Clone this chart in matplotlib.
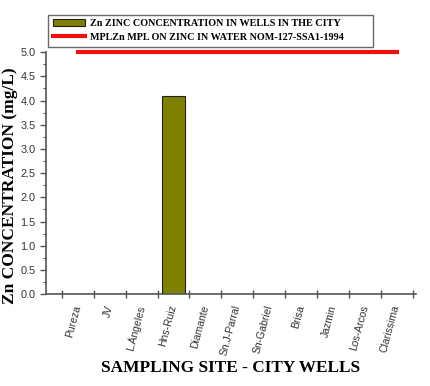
import numpy as np
import matplotlib
matplotlib.use('Agg')
import matplotlib.pyplot as plt
from matplotlib.patches import Patch
from matplotlib.lines import Line2D

# datos
sites = ['Pureza', 'JV', 'L.Ángeles', 'Hns-Ruiz', 'Diamante', 'Sn.J-Parral',
         'Sn-Gabriel', 'Brisa', 'Jazmin', 'Los-Arcos', 'Clarissima']
zinc = [0, 0, 0, 4.1, 0, 0, 0, 0, 0, 0, 0]
mpl_limit = [5.0] * len(sites)

fig = plt.figure(figsize=(4.3, 3.86), dpi=100)
ax = fig.add_axes([0.107, 0.238, 0.86, 0.627])

x = np.arange(len(sites))
ax.bar(x, zinc, width=0.75, color='#808000', edgecolor='#222222', linewidth=0.8, zorder=2)
ax.plot(x, mpl_limit, color='#ee1111', linewidth=3, clip_on=False, zorder=3)

ax.set_xlim(-1.0, 10.6)
ax.set_ylim(0, 5)

axis_col = '#555555'
for s in ['top', 'right']:
    ax.spines[s].set_visible(False)
for s in ['left', 'bottom']:
    ax.spines[s].set_color(axis_col)
    ax.spines[s].set_linewidth(1.2)

ax.set_yticks(np.arange(0, 5.01, 0.5))
ax.set_yticks(np.arange(0.25, 5, 0.5), minor=True)
ax.set_yticklabels(['%.1f' % v for v in np.arange(0, 5.01, 0.5)],
                   fontsize=7.8, family='Liberation Sans', color='#333333')
ax.tick_params(axis='y', which='major', direction='out', length=4, width=1, color=axis_col)
ax.tick_params(axis='y', which='minor', direction='out', length=2, width=0.8, color=axis_col)

# marcas en los limites entre sitios, etiquetas en el centro
ax.set_xticks(np.arange(-0.5, 10.6, 1.0))
ax.set_xticklabels([])
ax.set_xticks(x, minor=True)
ax.set_xticklabels(sites, minor=True, rotation=75, ha='right', va='center',
                   rotation_mode='anchor', fontsize=7.5, family='Liberation Sans',
                   color='#333333')
ax.tick_params(axis='x', which='major', direction='inout', length=6, width=1, color=axis_col)
ax.tick_params(axis='x', which='minor', length=0, pad=8)

ax.set_ylabel('Zn CONCENTRATION (mg/L)', family='Liberation Serif', fontweight='bold',
              fontsize=12.5, va='center')
ax.yaxis.set_label_coords(-0.097, 0.45)
ax.set_xlabel('SAMPLING SITE - CITY WELLS', family='Liberation Serif', fontweight='bold',
              fontsize=12.4, labelpad=2)

handles = [Patch(facecolor='#808000', edgecolor='#222222', linewidth=0.8),
           Line2D([], [], color='#ee1111', linewidth=3)]
labels = ['Zn ZINC CONCENTRATION IN WELLS IN THE CITY',
          'MPLZn MPL ON ZINC IN WATER NOM-127-SSA1-1994']
leg = fig.legend(handles, labels, loc='upper left', mode='expand',
                 bbox_to_anchor=(0.112, 0.962, 0.756, 0.0),
                 prop={'family': 'Liberation Serif', 'weight': 'bold', 'size': 7.3},
                 frameon=True, fancybox=False, edgecolor='#444444',
                 borderpad=0.45, labelspacing=0.45, handlelength=3.2, handletextpad=0.5,
                 borderaxespad=0)
leg.get_frame().set_linewidth(1.0)

fig.savefig('out.png', dpi=100)
